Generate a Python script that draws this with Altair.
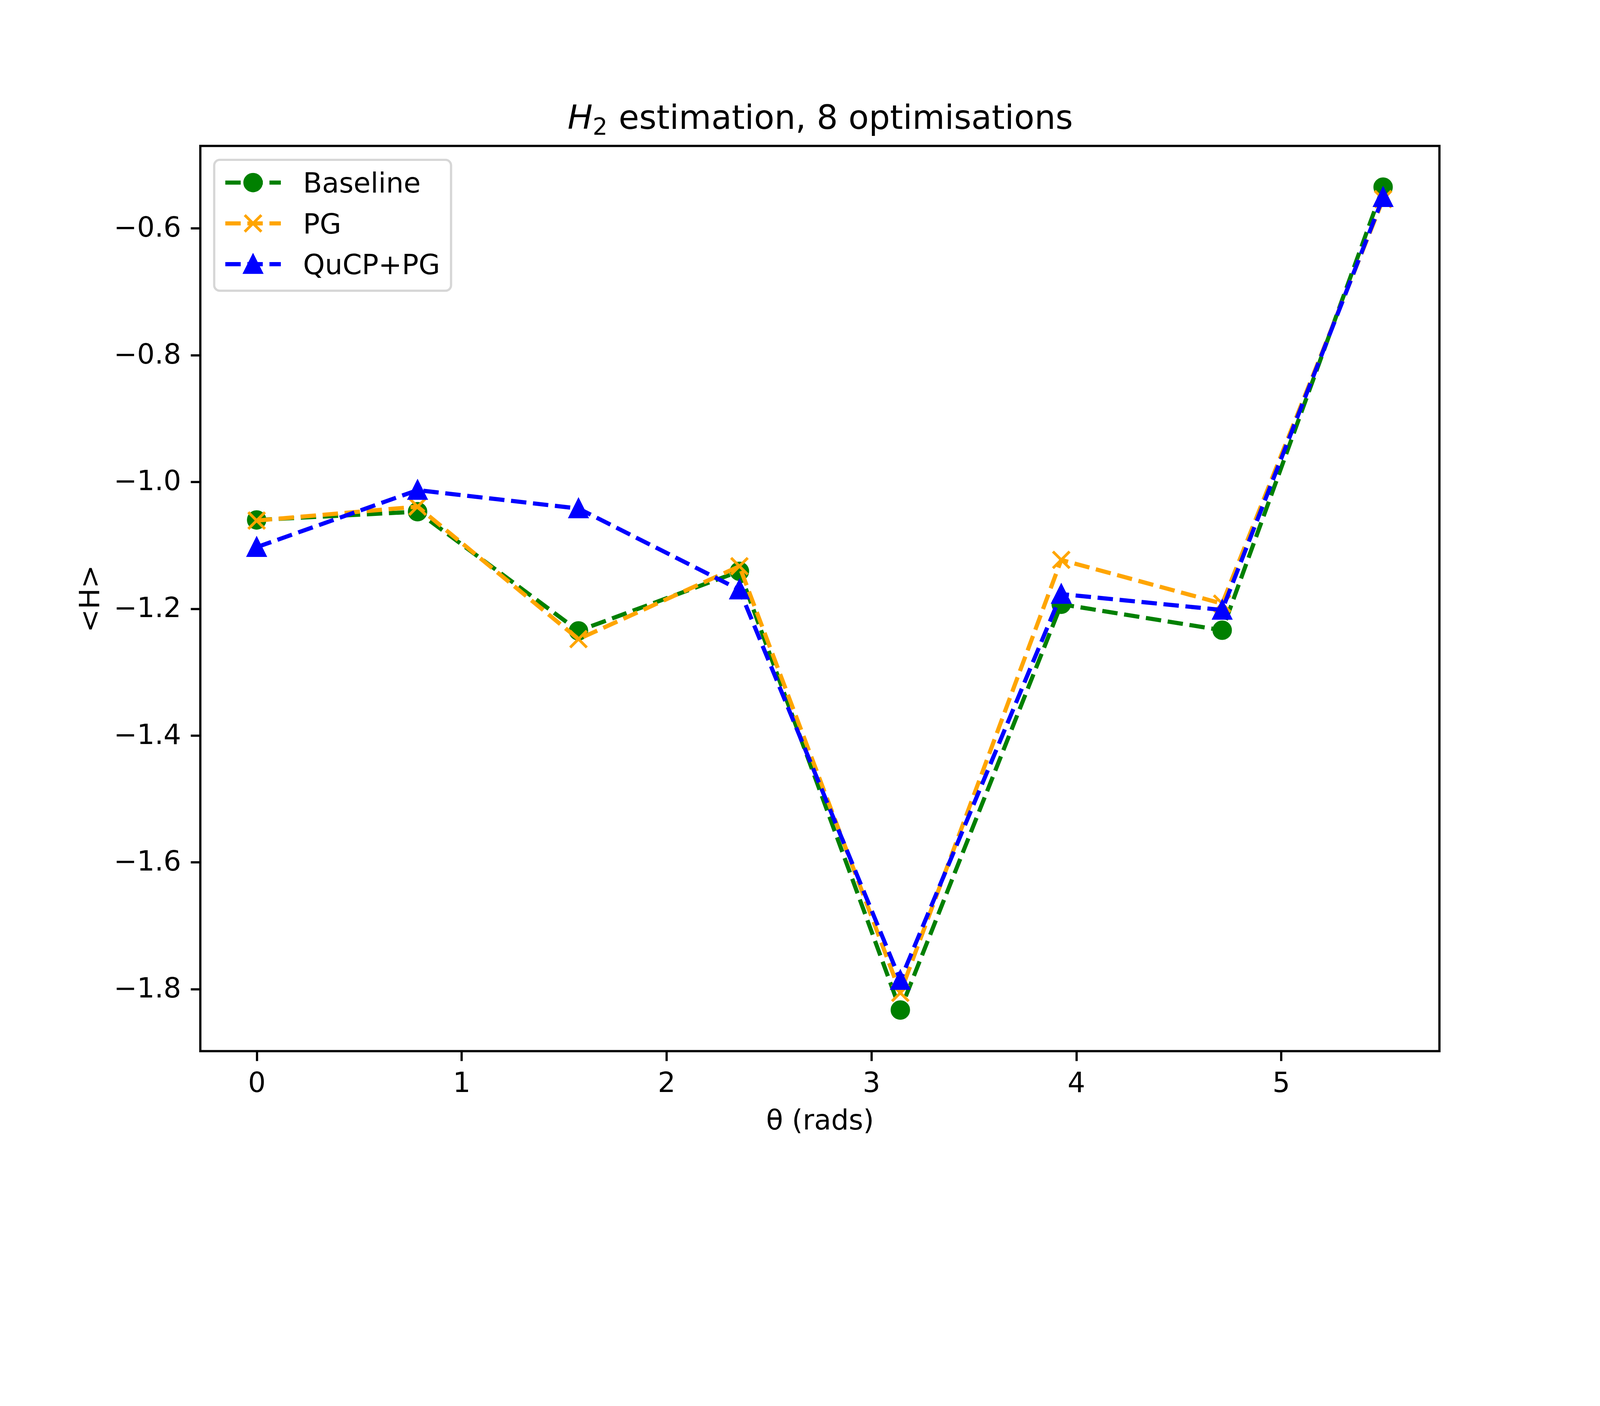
import altair as alt
import pandas as pd

# ---- data ----
theta = [0.0, 0.7854, 1.5708, 2.3562, 3.1416, 3.9270, 4.7124, 5.4978]
series_names = ["Baseline", "PG", "QuCP+PG"]
baseline = [-1.060, -1.047, -1.235, -1.141, -1.833, -1.193, -1.234, -0.535]
pg = [-1.061, -1.039, -1.248, -1.133, -1.806, -1.123, -1.192, -0.554]
qucp_pg = [-1.103, -1.013, -1.042, -1.170, -1.786, -1.177, -1.202, -0.551]
x_ticks = [0, 1, 2, 3, 4, 5]
y_ticks = [-1.8, -1.6, -1.4, -1.2, -1.0, -0.8, -0.6]
title_parts = ["H", "2", "estimation, 8 optimisations"]
x_title = "θ (rads)"
y_title = "<H>"

values = [baseline, pg, qucp_pg]
colors = ["#008000", "#FFA500", "#0000FF"]

# ---- sizes: designed for a 4800x3600 figure at 600 dpi, then scaled by S ----
S = 1 / 1.17
PT = 600 / 72 * S
FS = 10 * PT
LW = 1.5 * PT
DASH = [3.7 * 1.5 * PT, 1.6 * 1.5 * PT]
MS = 6 * PT
MEW = 1.0 * PT
W, H = 3720 * S, 2718 * S
PAD_L, PAD_T, PAD_R, PAD_B = 592 * S, 424 * S, 472 * S, 442 * S

# matplotlib-like 5% margins
all_y = baseline + pg + qucp_pg
ymin, ymax = min(all_y), max(all_y)
xmin, xmax = min(theta), max(theta)
ym = 0.05 * (ymax - ymin)
xm = 0.05 * (xmax - xmin)
xdom = [xmin - xm, xmax + xm]
ydom = [ymin - ym, ymax + ym]

x_enc = alt.X("theta:Q",
              scale=alt.Scale(domain=xdom, nice=False, zero=False),
              axis=alt.Axis(values=x_ticks, format="d", title=x_title,
                            labelBaseline="top", labelPadding=27 * S,
                            titleY=235 * S, titleBaseline="alphabetic",
                            titleX=W / 2))
y_enc = alt.Y("v:Q",
              scale=alt.Scale(domain=ydom, nice=False, zero=False),
              axis=alt.Axis(values=y_ticks, title=y_title,
                            labelExpr="replace(format(datum.value, '.1f'), '-', '\u2212')",
                            labelPadding=29 * S, labelBaseline="middle",
                            titleX=-304 * S, titleY=H / 2, titleAngle=270,
                            titleAlign="center", titleBaseline="alphabetic"))

shape_circle = "circle"
shape_x = "M-1,-1L1,1M-1,1L1,-1"
shape_tri = "M0,-1L-1,1L1,1Z"


def point_mark(i):
    c = colors[i]
    if i == 0:
        return alt.MarkDef(type="point", shape=shape_circle, size=MS * MS, filled=True,
                           fill=c, stroke=c, strokeWidth=MEW, opacity=1)
    if i == 1:
        return alt.MarkDef(type="point", shape=shape_x, size=MS * MS, filled=False,
                           stroke=c, strokeWidth=MEW, strokeCap="butt", opacity=1)
    return alt.MarkDef(type="point", shape=shape_tri, size=MS * MS, filled=True,
                       fill=c, stroke=c, strokeWidth=MEW, strokeJoin="miter", opacity=1)


one = pd.DataFrame({"a": [0]})

# invisible frame that fixes the overall chart bounds
bounds = alt.Chart(one).mark_rect(fill="white", fillOpacity=0, strokeWidth=0).encode(
    x=alt.value(-PAD_L), x2=alt.value(W + PAD_R), y=alt.value(-PAD_T), y2=alt.value(H + PAD_B))
layers = [bounds]

for i, name in enumerate(series_names):
    df = pd.DataFrame({"theta": theta, "v": values[i], "series": name})
    line = alt.Chart(df).mark_line(color=colors[i], strokeWidth=LW, strokeDash=DASH,
                                   strokeCap="butt", strokeJoin="round").encode(
        x=x_enc, y=y_enc, order="theta:Q")
    pts = alt.Chart(df).mark_point().encode(x=x_enc, y=y_enc)
    pts.mark = point_mark(i)
    layers += [line, pts]

# ---- legend (upper left, matplotlib style) ----
frame = alt.Chart(one).mark_rect(fill="white", fillOpacity=0.8, stroke="#cccccc",
                                 strokeOpacity=0.8, strokeWidth=0.8 * PT,
                                 cornerRadius=0.2 * FS).encode(
    x=alt.value(41.67 * S), x2=alt.value(752.7 * S),
    y=alt.value(41.67 * S), y2=alt.value(434.7 * S))
layers.append(frame)
row_y = [110 * S, 232.5 * S, 355 * S]
for i, name in enumerate(series_names):
    ldf = pd.DataFrame({"label": [name]})
    rule = alt.Chart(ldf).mark_rule(color=colors[i], strokeWidth=LW, strokeDash=DASH,
                                    strokeCap="butt").encode(
        x=alt.value(75 * S), x2=alt.value(241.7 * S), y=alt.value(row_y[i]))
    mk = alt.Chart(ldf).mark_point().encode(x=alt.value(158.3 * S), y=alt.value(row_y[i]))
    mk.mark = point_mark(i)
    txt = alt.Chart(ldf).mark_text(align="left", baseline="alphabetic", fontSize=FS,
                                   font="DejaVu Sans", color="black").encode(
        x=alt.value(308.3 * S), y=alt.value(row_y[i] + 30 * S), text="label:N")
    layers += [rule, mk, txt]

# ---- title with italic H and subscript 2 ----
t1 = alt.Chart(one).mark_text(text=title_parts[0], font="DejaVu Sans", fontStyle="italic",
                              fontSize=12 * PT, align="left", baseline="alphabetic",
                              color="black").encode(x=alt.value(1102.5 * S), y=alt.value(-51 * S))
t2 = alt.Chart(one).mark_text(text=title_parts[1], font="DejaVu Sans",
                              fontSize=0.7 * 12 * PT, align="left", baseline="alphabetic",
                              color="black").encode(x=alt.value(1178 * S), y=alt.value(-34 * S))
t3 = alt.Chart(one).mark_text(text=title_parts[2], font="DejaVu Sans",
                              fontSize=12 * PT, align="left", baseline="alphabetic",
                              color="black").encode(x=alt.value(1256 * S), y=alt.value(-51 * S))
layers += [t1, t2, t3]

chart = alt.layer(*layers).properties(
    width=W, height=H,
    padding=0,
    background="white",
).configure(font="DejaVu Sans").configure_view(
    stroke="black", strokeWidth=0.8 * PT, fill="white"
).configure_axis(
    domain=False, grid=False, ticks=True, tickSize=3.5 * PT, tickWidth=0.8 * PT,
    tickColor="black", labelFont="DejaVu Sans", labelFontSize=FS, labelColor="black",
    titleFont="DejaVu Sans", titleFontSize=FS, titleFontWeight="normal", titleColor="black",
    labelFlush=False, labelOverlap=False, labelLimit=0
)

chart.save("out.html", embed_options={"renderer": "svg", "actions": False})
